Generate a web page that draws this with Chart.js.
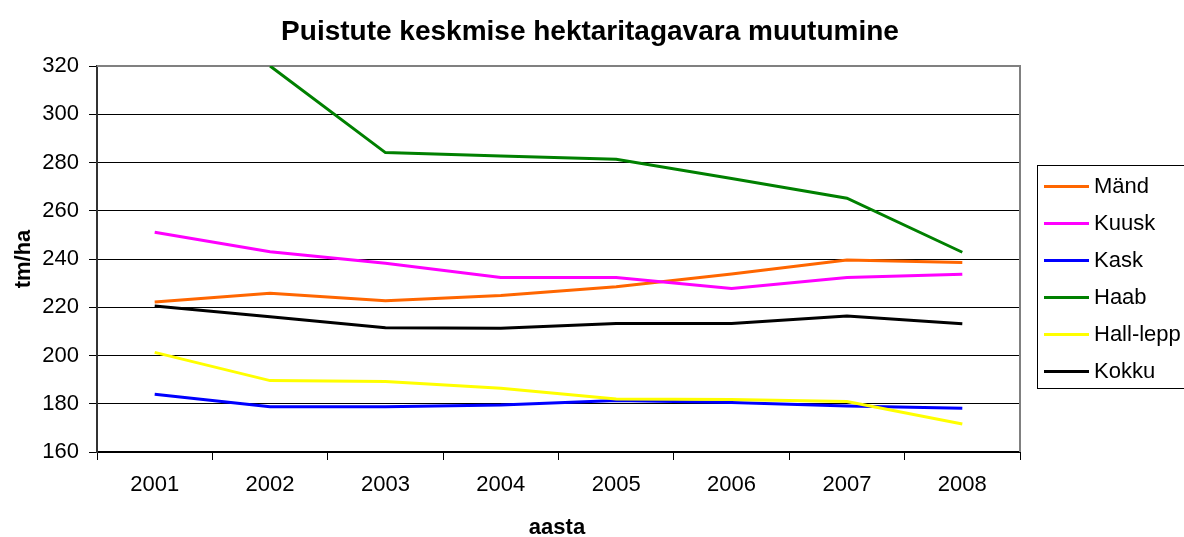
<!DOCTYPE html>
<html>
<head>
<meta charset="utf-8">
<script src="https://cdn.jsdelivr.net/npm/chart.js@4.4.1/dist/chart.umd.min.js"></script>
<style>
  html, body { margin: 0; padding: 0; background: #fff; }
  canvas { display: block; }
</style>
</head>
<body>
<canvas id="chart" width="1184" height="537"></canvas>
<script>
// data
const years = ['2001', '2002', '2003', '2004', '2005', '2006', '2007', '2008'];
const mand     = [222.2, 225.8, 222.7, 224.9, 228.5, 233.8, 239.6, 238.6];
const kuusk    = [251.1, 243.0, 238.2, 232.3, 232.3, 227.8, 232.3, 233.7];
const kask     = [183.9, 178.8, 178.8, 179.5, 181.3, 180.5, 179.1, 178.1];
const haab     = [null, 320.0, 284.1, 282.7, 281.3, 273.4, 265.2, 242.8]; // 2001 off the scale
const hallLepp = [201.3, 189.6, 189.2, 186.4, 182.0, 181.8, 180.9, 171.6];
const kokku    = [220.5, 216.1, 211.5, 211.3, 213.3, 213.3, 216.4, 213.2];

const seriesNames  = ['Mänd', 'Kuusk', 'Kask', 'Haab', 'Hall-lepp', 'Kokku'];
const seriesColors = ['#FF6600', '#FF00FF', '#0000FF', '#008000', '#FFFF00', '#000000'];
const seriesValues = [mand, kuusk, kask, haab, hallLepp, kokku];

const yMin = 160, yMax = 320, yStep = 20;
const chartTitle = 'Puistute keskmise hektaritagavara muutumine';
const xTitle = 'aasta';
const yTitle = 'tm/ha';

const FONT = '"Liberation Sans", Arial, sans-serif';

// titles, plot frame and the legend box
const decor = {
  id: 'decor',
  beforeDatasetsDraw(chart) {
    const { ctx, chartArea: a } = chart;
    ctx.save();
    ctx.strokeStyle = '#808080';
    ctx.lineWidth = 2;
    ctx.beginPath();
    ctx.moveTo(a.left, a.top);
    ctx.lineTo(a.right, a.top);
    ctx.lineTo(a.right, a.bottom);
    ctx.stroke();
    ctx.restore();
  },
  afterDraw(chart) {
    const { ctx, chartArea: a } = chart;
    ctx.save();
    ctx.fillStyle = '#000';
    ctx.textAlign = 'center';
    ctx.textBaseline = 'alphabetic';

    ctx.font = 'bold 28px ' + FONT;
    ctx.fillText(chartTitle, 590, 40);

    ctx.font = 'bold 22px ' + FONT;
    ctx.fillText(xTitle, 557, 534);

    ctx.translate(30, (a.top + a.bottom) / 2);
    ctx.rotate(-Math.PI / 2);
    ctx.fillText(yTitle, 0, 0);
    ctx.restore();

    // legend
    ctx.save();
    ctx.strokeStyle = '#000';
    ctx.lineWidth = 1;
    ctx.strokeRect(1037.5, 165.5, 160, 223);
    ctx.font = '22px ' + FONT;
    ctx.textAlign = 'left';
    ctx.textBaseline = 'middle';
    chart.data.datasets.forEach((ds, i) => {
      const y = 186.5 + i * 37;
      ctx.strokeStyle = ds.borderColor;
      ctx.lineWidth = 3;
      ctx.beginPath();
      ctx.moveTo(1044, y);
      ctx.lineTo(1089, y);
      ctx.stroke();
      ctx.fillStyle = '#000';
      ctx.fillText(ds.label, 1094, y);
    });
    ctx.restore();
  }
};

new Chart(document.getElementById('chart'), {
  type: 'line',
  data: {
    labels: years,
    datasets: seriesNames.map((name, i) => ({
      label: name,
      data: seriesValues[i],
      borderColor: seriesColors[i],
      backgroundColor: seriesColors[i],
      borderWidth: 3,
      pointRadius: 0,
      tension: 0,
      order: seriesNames.length - i
    }))
  },
  options: {
    responsive: false,
    animation: false,
    layout: { padding: { top: 66, right: 164, bottom: 0, left: 0 } },
    plugins: {
      legend: { display: false },
      tooltip: { enabled: false },
      title: { display: false }
    },
    scales: {
      x: {
        offset: true,
        afterFit(scale) { scale.height = 85; },
        grid: {
          offset: true,
          drawOnChartArea: false,
          drawTicks: true,
          tickLength: 8,
          color: '#000'
        },
        border: { color: '#000', width: 2 },
        ticks: {
          color: '#000',
          font: { family: FONT, size: 22 },
          padding: 12,
          maxRotation: 0
        }
      },
      y: {
        min: yMin,
        max: yMax,
        afterFit(scale) { scale.width = 97; },
        grid: {
          color: '#000',
          borderDash: [2, 2],
          tickLength: 8,
          tickColor: '#000',
          tickBorderDash: []
        },
        border: { color: '#333', width: 2 },
        ticks: {
          stepSize: yStep,
          color: '#000',
          font: { family: FONT, size: 22 },
          padding: 10
        }
      }
    }
  },
  plugins: [decor]
});
</script>
</body>
</html>
